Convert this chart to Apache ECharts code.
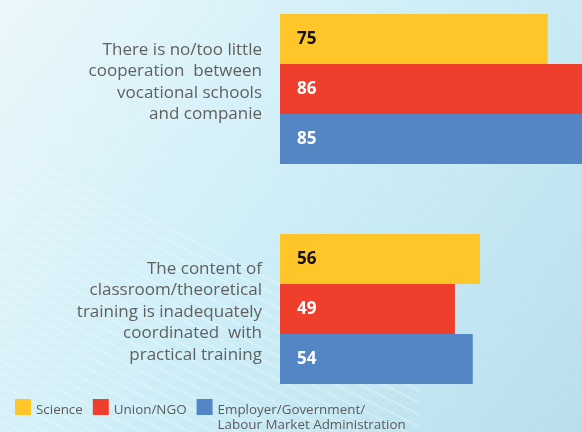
<!DOCTYPE html>
<html>
<head>
<meta charset="utf-8">
<script src="https://cdn.jsdelivr.net/npm/echarts@6/dist/echarts.min.js"></script>
<style>html,body{margin:0;padding:0;}#c{width:582px;height:432px;}</style>
</head>
<body>
<div id="c"></div>
<script>
var categories = [
  "There is no/too little\ncooperation  between\nvocational schools\nand companie",
  "The content of\nclassroom/theoretical\ntraining is inadequately\ncoordinated  with\npractical training"
];
var seriesNames = ["Science", "Union/NGO", "Employer/Government/\nLabour Market Administration"];
var science = [75, 56];
var unionNgo = [86, 49];
var employer = [85, 54];
var colors = ["#ffc629", "#f03e2d", "#5486c6"];
var labelColors = ["#111111", "#ffffff", "#ffffff"];

var chart = echarts.init(document.getElementById('c'), null, {renderer: 'canvas'});

var lines = [];
for (var i = 0; i < 26; i++) {
  var y0 = 140 + i * 12;
  lines.push({
    type: 'line', silent: true, z: -1,
    shape: {x1: -10, y1: y0, x2: 420, y2: y0 + 215},
    style: {stroke: 'rgba(255,255,255,0.32)', lineWidth: 1.5}
  });
}

function mk(name, data, idx) {
  return {
    name: name, type: 'bar', data: data,
    barWidth: 50, barGap: '0%', clip: false,
    itemStyle: {color: colors[idx]},
    label: {
      show: true, position: 'insideLeft', distance: 17,
      fontFamily: 'Open Sans', fontWeight: 'bold', fontSize: 17,
      color: labelColors[idx]
    }
  };
}

function richLines(text, tag) {
  return text.split('\n').map(function (s) { return '{' + tag + '|' + s + '}'; }).join('\n');
}

chart.setOption({
  backgroundColor: {
    type: 'linear', x: 0, y: 0, x2: 1, y2: 1,
    colorStops: [
      {offset: 0, color: '#ebf7fb'},
      {offset: 0.5, color: '#cdeef7'},
      {offset: 1, color: '#b9dfec'}
    ]
  },
  animation: false,
  graphic: lines,
  legend: {
    left: 15, top: 381, padding: 0,
    itemWidth: 16, itemHeight: 16, itemGap: 10,
    icon: 'rect',
    formatter: function (n) {
      if (n === seriesNames[2]) return '{e2| }\n' + richLines(n, 'a');
      return '{e1| }\n' + richLines(n, 'a');
    },
    textStyle: {
      fontFamily: 'Open Sans', fontSize: 13.4, color: '#5b5b5b', lineHeight: 15,
      rich: {
        a: {fontFamily: 'Open Sans', fontSize: 13.4, color: '#5b5b5b', lineHeight: 15},
        e1: {fontSize: 1, lineHeight: 6},
        e2: {fontSize: 1, lineHeight: 22}
      }
    }
  },
  grid: {left: 280, top: -21, width: 357, height: 440, outerBoundsMode: 'none'},
  xAxis: {type: 'value', min: 0, max: 100, show: false},
  yAxis: {
    type: 'category', inverse: true,
    data: categories,
    axisLine: {show: false}, axisTick: {show: false},
    axisLabel: {
      margin: 18, align: 'right',
      formatter: function (v, idx) {
        if (idx === 0) return richLines(v, 't') + '\n{e|  }';
        return '{e2| }\n' + richLines(v, 't');
      },
      rich: {
        t: {fontFamily: 'Open Sans', fontSize: 17, lineHeight: 21.5, color: '#606060', align: 'right'},
        e: {fontSize: 1, lineHeight: 14},
        e2: {fontSize: 1, lineHeight: 6}
      }
    }
  },
  series: [
    mk(seriesNames[0], science, 0),
    mk(seriesNames[1], unionNgo, 1),
    mk(seriesNames[2], employer, 2)
  ]
});
</script>
</body>
</html>
